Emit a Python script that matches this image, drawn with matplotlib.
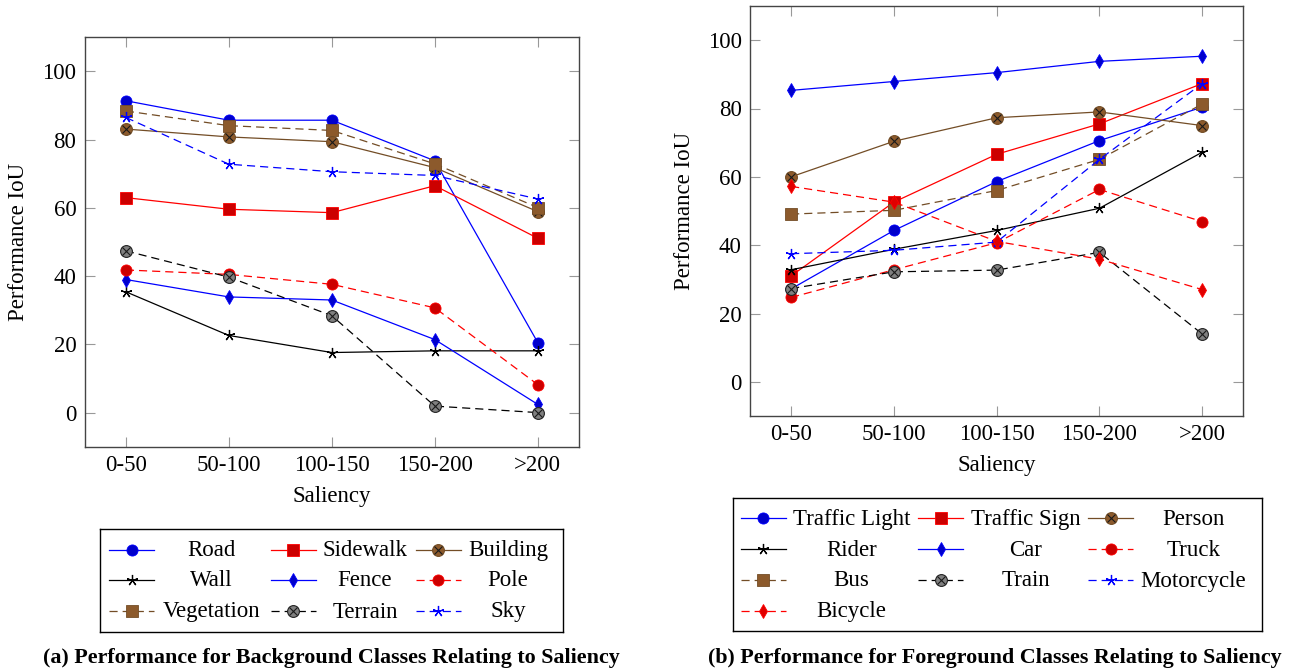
import matplotlib
matplotlib.use('Agg')
import matplotlib.pyplot as plt

plt.rcParams['font.family'] = ['Liberation Serif', 'DejaVu Serif']

saliency = ['0-50', '50-100', '100-150', '150-200', '>200']

# (a) background classes
bg_names = ['Road', 'Sidewalk', 'Building', 'Wall', 'Fence', 'Pole',
            'Vegetation', 'Terrain', 'Sky']
road = [91.4, 85.7, 85.7, 73.8, 20.5]
sidewalk = [63.0, 59.6, 58.6, 66.5, 51.1]
building = [83.1, 80.8, 79.4, 71.8, 58.9]
wall = [35.4, 22.6, 17.6, 18.1, 18.1]
fence = [39.0, 33.9, 33.0, 21.4, 2.4]
pole = [41.8, 40.5, 37.6, 30.7, 8.2]
vegetation = [88.4, 84.1, 82.7, 72.9, 60.1]
terrain = [47.4, 39.7, 28.4, 1.9, 0.0]
sky = [86.5, 72.8, 70.6, 69.5, 62.6]

# (b) foreground classes
fg_names = ['Traffic Light', 'Traffic Sign', 'Person', 'Rider', 'Car', 'Truck',
            'Bus', 'Train', 'Motorcycle', 'Bicycle']
traffic_light = [27.2, 44.3, 58.6, 70.6, 80.4]
traffic_sign = [31.0, 52.6, 66.6, 75.5, 87.3]
person = [60.0, 70.4, 77.3, 79.0, 75.0]
rider = [32.8, 38.8, 44.3, 50.8, 67.2]
car = [85.3, 87.9, 90.5, 93.8, 95.3]
truck = [24.7, 32.8, 40.7, 56.3, 46.9]
bus = [49.1, 50.2, 56.0, 65.1, 81.3]
train = [27.3, 32.2, 32.7, 37.9, 14.0]
motorcycle = [37.5, 38.5, 40.9, 65.1, 87.3]
bicycle = [57.2, 52.6, 41.1, 35.9, 27.0]

BG = [road, sidewalk, building, wall, fence, pole, vegetation, terrain, sky]
FG = [traffic_light, traffic_sign, person, rider, car, truck, bus, train,
      motorcycle, bicycle]

# pgfplots "color" cycle list
DASH = (0, (6.5, 4.0))
CYCLE = [
    dict(color='#0000ff', ls='-', marker='o', fc='#0000cc'),
    dict(color='#ff0000', ls='-', marker='s', fc='#cc0000'),
    dict(color='#734d26', ls='-', marker='otimes', fc='#8c5a2c'),
    dict(color='#000000', ls='-', marker='star', fc='#000000'),
    dict(color='#0000ff', ls='-', marker='d', fc='#0000cc'),
    dict(color='#ff0000', ls=DASH, marker='o', fc='#cc0000'),
    dict(color='#734d26', ls=DASH, marker='s', fc='#8c5a2c'),
    dict(color='#000000', ls=DASH, marker='otimes', fc='#808080'),
    dict(color='#0000ff', ls=DASH, marker='star', fc='#0000ff'),
    dict(color='#ff0000', ls=DASH, marker='d', fc='#e00000'),
]

FS = 16.5


def draw(ax, x, y, st, lw=0.9, every=None):
    """Draw one series (line + pgfplots-like marks)."""
    m = st['marker']
    if m == 'star':
        ax.plot(x, y, color=st['color'], ls=st['ls'], lw=lw, markevery=every,
                marker=(5, 2, 0), ms=8, mew=0.9, mec=st['color'])
    elif m == 'otimes':
        edge = '#222222' if st['fc'] == '#808080' else st['color']
        ax.plot(x, y, color=st['color'], ls=st['ls'], lw=lw, markevery=every,
                marker='o', ms=8.5, mfc=st['fc'], mec=edge, mew=0.8)
        ax.plot(x, y, ls='none', marker='x', ms=5.5, mew=0.8, mec='#1a1a1a',
                markevery=every)
    else:
        ms = 7.5 if m == 'd' else 8
        ax.plot(x, y, color=st['color'], ls=st['ls'], lw=lw, markevery=every,
                marker=m, ms=ms, mfc=st['fc'], mec=st['color'], mew=0.6)


def setup_axes(ax):
    ax.set_xlim(-0.4, 4.4)
    ax.set_ylim(-10, 110)
    ax.set_xticks(range(len(saliency)))
    ax.set_xticklabels(saliency)
    ax.set_yticks(range(0, 101, 20))
    ax.tick_params(direction='in', length=7, width=0.8, color='#999999',
                   top=True, right=True, labelsize=FS, pad=6)
    for s in ax.spines.values():
        s.set_color('#444444')
        s.set_linewidth(1.0)
    ax.set_xlabel('Saliency', fontsize=FS, va='center')
    ax.set_ylabel('Performance IoU', fontsize=FS, va='center')


def draw_legend(fig, rect, names, handle_x, label_cx, row_y, box_px):
    """Manual pgfplots-style legend: rows filled left to right, labels centred."""
    lax = fig.add_axes(rect)
    lax.set_xlim(0, box_px[0])
    lax.set_ylim(box_px[1], 0)
    lax.set_xticks([])
    lax.set_yticks([])
    for s in lax.spines.values():
        s.set_color('black')
        s.set_linewidth(1.0)
    for i, name in enumerate(names):
        r, c = divmod(i, 3)
        x0 = handle_x[c]
        y0 = row_y[r]
        draw(lax, [x0, x0 + 22.5, x0 + 45], [y0, y0, y0], CYCLE[i], every=[1])
        lax.text(label_cx[c], y0 + 1, name, fontsize=FS, ha='center', va='center')


W, H = 1289, 671
fig = plt.figure(figsize=(W / 100, H / 100), dpi=100)

axL = fig.add_axes([84.7 / W, 1 - 446.7 / H, 494.3 / W, 409.4 / H])
axR = fig.add_axes([750 / W, 1 - 416 / H, 493.3 / W, 410 / H])

for ax, series in ((axL, BG), (axR, FG)):
    for i, y in enumerate(series):
        draw(ax, range(len(saliency)), y, CYCLE[i])
    setup_axes(ax)

axL.xaxis.set_label_coords(0.5, -50 / 409.4)
axL.yaxis.set_label_coords(-66.4 / 494.3, 0.5)
axR.xaxis.set_label_coords(0.5, -50 / 410)
axR.yaxis.set_label_coords(-65.7 / 493.3, 0.5)

# legends (pixel layout of the reference)
draw_legend(fig, [100.3 / W, 1 - 632.3 / H, 462.4 / W, 103.3 / H], bg_names,
            handle_x=[8.7, 170.7, 315.4], label_cx=[111.4, 264.7, 407.7],
            row_y=[20.8, 51.0, 82.0], box_px=(462.4, 103.3))
draw_legend(fig, [732.7 / W, 1 - 631 / H, 529 / W, 132.7 / H], fg_names,
            handle_x=[8.0, 185.6, 355.6], label_cx=[119.0, 293.1, 460.6],
            row_y=[20.0, 50.7, 81.7, 112.4], box_px=(529, 132.7))

fig.text(331 / W, 1 - 657.5 / H,
         '(a) Performance for Background Classes Relating to Saliency',
         fontsize=15.8, fontweight='bold', ha='center', va='center')
fig.text(995 / W, 1 - 657.5 / H,
         '(b) Performance for Foreground Classes Relating to Saliency',
         fontsize=15.8, fontweight='bold', ha='center', va='center')

fig.savefig('out.png', dpi=100)
